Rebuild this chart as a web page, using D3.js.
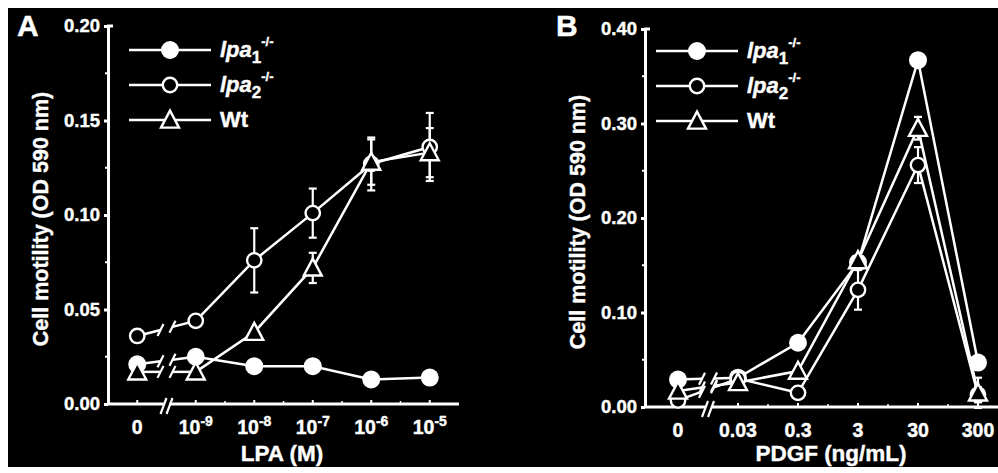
<!DOCTYPE html>
<html>
<head>
<meta charset="utf-8">
<script src="https://cdn.jsdelivr.net/npm/d3@7"></script>
<style>
  html, body { margin: 0; padding: 0; background: #fff; }
  svg { display: block; }
  text { font-family: 'Liberation Sans', Arial, sans-serif; font-weight: bold; fill: #fff; stroke: #fff; stroke-width: 0.4px; }
</style>
</head>
<body>
<div id="chart"></div>
<script>
// Panel A: LPA dose response
var lpaCats = ['0', '-9', '-8', '-7', '-6', '-5'];
var lpa1A = [0.021, 0.025, 0.020, 0.020, 0.013, 0.014];
var lpa2A = [0.036, 0.044, 0.076, 0.101, 0.127, 0.136];
var wtA   = [0.017, 0.017, 0.038, 0.072, 0.128, 0.133];
var lpa2AErr = [0, 0, 0.017, 0.013, 0.014, 0.018];
var wtAErr   = [0, 0, 0, 0.008, 0.012, 0.013];
var yTicksA = [0, 0.05, 0.10, 0.15, 0.20];

// Panel B: PDGF dose response
var pdgfCats = ['0', '0.03', '0.3', '3', '30', '300'];
var lpa1B = [0.029, 0.031, 0.068, 0.153, 0.367, 0.047];
var lpa2B = [0.007, 0.030, 0.015, 0.124, 0.256, 0.013];
var wtB   = [0.017, 0.026, 0.038, 0.155, 0.295, 0.015];
var lpa2BErr = [0, 0, 0, 0.021, 0.019, 0.008];
var wtBErr   = [0, 0, 0, 0, 0.012, 0.016];
var yTicksB = [0, 0.10, 0.20, 0.30, 0.40];

var W = 998, H = 473;
var svg = d3.select('#chart').append('svg').attr('width', W).attr('height', H);
svg.append('rect').attr('x', 8).attr('y', 8).attr('width', W - 8).attr('height', 459).attr('fill', '#000');

var defs = svg.append('defs');
defs.append('clipPath').attr('id', 'clipAll')
    .append('rect').attr('x', 8).attr('y', 8).attr('width', W - 8).attr('height', 459);
var root = svg.append('g').attr('clip-path', 'url(#clipAll)');

var LW = 2.5;

function drawMarker(g, type, cx, cy) {
    if (type === 'filled') {
        g.append('circle').attr('cx', cx).attr('cy', cy).attr('r', 9).attr('fill', '#fff');
    } else if (type === 'open') {
        g.append('circle').attr('cx', cx).attr('cy', cy).attr('r', 7.2)
            .attr('fill', '#000').attr('stroke', '#fff').attr('stroke-width', 2.4);
    } else {
        var s = 9, h = 17;
        g.append('path')
            .attr('d', 'M' + cx + ',' + (cy - h * 0.55) + 'L' + (cx + s) + ',' + (cy + h * 0.45) + 'L' + (cx - s) + ',' + (cy + h * 0.45) + 'Z')
            .attr('fill', '#000').attr('stroke', '#fff').attr('stroke-width', 2.4).attr('stroke-linejoin', 'miter');
    }
}

function slash(g, x, y, h) {
    g.append('line').attr('x1', x - 3).attr('y1', y + h).attr('x2', x + 3).attr('y2', y - h)
        .attr('stroke', '#fff').attr('stroke-width', 2.2);
}

function panel(o) {
    var g = root.append('g');
    var x = d3.scalePoint().domain(o.cats).range(o.xRange).padding(o.pad);
    var y = d3.scaleLinear().domain(o.yDomain).range(o.yRange);
    var y0 = y(0);
    var brk = (x(o.cats[0]) + x(o.cats[1])) / 2;

    // x axis line and ticks
    g.append('line').attr('x1', o.xRange[0]).attr('x2', o.xEnd).attr('y1', y0).attr('y2', y0)
        .attr('stroke', '#fff').attr('stroke-width', 3);
    g.append('g').selectAll('line').data(o.cats).join('line')
        .attr('x1', function (d) { return x(d); }).attr('x2', function (d) { return x(d); })
        .attr('y1', y0 - 4).attr('y2', y0).attr('stroke', '#fff').attr('stroke-width', 2);
    g.append('g').selectAll('line').data(o.cats.slice(1, -1)).join('line')
        .attr('x1', function (d) { return x(d) + x.step() / 2; }).attr('x2', function (d) { return x(d) + x.step() / 2; })
        .attr('y1', y0 - 3).attr('y2', y0).attr('stroke', '#fff').attr('stroke-width', 1.5);

    // y axis
    var yAxis = d3.axisLeft(y).tickValues(o.yTicks).tickSize(4).tickSizeOuter(0).tickFormat(d3.format('.2f'));
    var yg = g.append('g').attr('transform', 'translate(' + o.xRange[0] + ',0)').call(yAxis);
    yg.selectAll('path,line').attr('stroke', '#fff').attr('stroke-width', 3);
    yg.selectAll('text').attr('font-size', 18.5).attr('font-family', "'Liberation Sans', Arial, sans-serif")
        .attr('font-weight', 'bold').attr('fill', '#fff').attr('dx', -1);
    var minor = [];
    for (var i = 0; i < o.yTicks.length - 1; i++) minor.push((o.yTicks[i] + o.yTicks[i + 1]) / 2);
    g.append('g').selectAll('line').data(minor).join('line')
        .attr('x1', o.xRange[0]).attr('x2', o.xRange[0] - 3)
        .attr('y1', function (d) { return y(d); }).attr('y2', function (d) { return y(d); })
        .attr('stroke', '#fff').attr('stroke-width', 2);
    var top = y(o.yDomain[1]);
    g.append('line').attr('x1', o.xRange[0] - 1).attr('x2', o.xRange[0] + 5).attr('y1', top).attr('y2', top)
        .attr('stroke', '#fff').attr('stroke-width', 3);

    // axis break
    g.append('rect').attr('x', brk - 3).attr('y', y0 - 3).attr('width', 6).attr('height', 6).attr('fill', '#000');
    slash(g, brk - 3, y0 + 2, 8);
    slash(g, brk + 3, y0 + 2, 8);

    // x tick labels
    var lab = g.append('g').selectAll('text').data(o.cats).join('text')
        .attr('x', function (d) { return x(d); }).attr('y', y0 + 30)
        .attr('text-anchor', 'middle').attr('font-size', 19.5);
    if (o.expo) {
        lab.each(function (d) {
            var t = d3.select(this);
            if (d === '0') { t.text('0'); return; }
            t.append('tspan').text('10');
            t.append('tspan').attr('font-size', 14).attr('dy', -8).text(d);
        });
    } else {
        lab.text(function (d) { return d; });
    }

    // series
    var series = o.series;
    var lineG = g.append('g'), errG = g.append('g'), markG = g.append('g');
    series.forEach(function (s) {
        var pts = s.values.map(function (v, i) { return [x(o.cats[i]), y(v)]; });
        var p0 = pts[0], p1 = pts[1];
        var gap = 6;
        var yAt = function (xx) { return p0[1] + (p1[1] - p0[1]) * (xx - p0[0]) / (p1[0] - p0[0]); };
        lineG.append('line').attr('x1', p0[0]).attr('y1', p0[1]).attr('x2', brk - gap).attr('y2', yAt(brk - gap))
            .attr('stroke', '#fff').attr('stroke-width', LW);
        lineG.append('line').attr('x1', brk + gap).attr('y1', yAt(brk + gap)).attr('x2', p1[0]).attr('y2', p1[1])
            .attr('stroke', '#fff').attr('stroke-width', LW);
        slash(lineG, brk - gap, yAt(brk - gap), 6);
        slash(lineG, brk + gap, yAt(brk + gap), 6);
        lineG.append('path').datum(pts.slice(1))
            .attr('d', d3.line())
            .attr('fill', 'none').attr('stroke', '#fff').attr('stroke-width', LW);
        if (s.err) {
            s.err.forEach(function (e, i) {
                if (!e) return;
                var cx = x(o.cats[i]);
                var a = y(s.values[i] + e), b = y(s.values[i] - e);
                errG.append('line').attr('x1', cx).attr('x2', cx).attr('y1', a).attr('y2', b)
                    .attr('stroke', '#fff').attr('stroke-width', 2.2);
                [a, b].forEach(function (yy) {
                    errG.append('line').attr('x1', cx - 4).attr('x2', cx + 4).attr('y1', yy).attr('y2', yy)
                        .attr('stroke', '#fff').attr('stroke-width', 2.2);
                });
            });
        }
    });
    series.forEach(function (s) {
        s.values.forEach(function (v, i) { drawMarker(markG, s.type, x(o.cats[i]), y(v)); });
    });

    // legend
    var lg = g.append('g');
    series.forEach(function (s, i) {
        var ly = o.legY + i * 35;
        lg.append('line').attr('x1', o.legX).attr('x2', o.legX + 82).attr('y1', ly).attr('y2', ly)
            .attr('stroke', '#fff').attr('stroke-width', LW);
        drawMarker(lg, s.type, o.legX + 41, ly);
        var t = lg.append('text').attr('x', o.legX + 91).attr('y', ly + 7).attr('font-size', 22);
        if (s.sub) {
            t.append('tspan').attr('font-style', 'italic').text('lpa');
            t.append('tspan').attr('font-size', 17).attr('dy', 6).text(s.sub);
            t.append('tspan').attr('font-size', 13).attr('dy', -17).text('-/-');
        } else {
            t.text(s.name);
        }
    });

    // titles
    g.append('text').attr('x', o.letterX).attr('y', 36).attr('font-size', 30).text(o.letter);
    g.append('text').attr('transform', 'translate(' + o.yTitleX + ',' + ((y0 + top) / 2 + 4) + ') rotate(-90)')
        .attr('text-anchor', 'middle').attr('font-size', 21.5).text('Cell motility (OD 590 nm)');
    g.append('text').attr('x', o.xTitleX).attr('y', 461).attr('text-anchor', 'middle')
        .attr('font-size', 22.5).text(o.xTitle);
}

panel({
    cats: lpaCats, xRange: [108, 459], xEnd: 459, pad: 0.5, expo: true,
    yDomain: [0, 0.2], yRange: [404, 26], yTicks: yTicksA,
    series: [
        { type: 'filled', values: lpa1A, sub: '1' },
        { type: 'open', values: lpa2A, err: lpa2AErr, sub: '2' },
        { type: 'tri', values: wtA, err: wtAErr, name: 'Wt' }
    ],
    legX: 129, legY: 50, letter: 'A', letterX: 17, yTitleX: 48,
    xTitle: 'LPA (M)', xTitleX: 282
});

panel({
    cats: pdgfCats, xRange: [645, 1011], xEnd: 1011, pad: 0.55, expo: false,
    yDomain: [0, 0.4], yRange: [407, 29], yTicks: yTicksB,
    series: [
        { type: 'filled', values: lpa1B, sub: '1' },
        { type: 'open', values: lpa2B, err: lpa2BErr, sub: '2' },
        { type: 'tri', values: wtB, err: wtBErr, name: 'Wt' }
    ],
    legX: 656, legY: 51, letter: 'B', letterX: 556, yTitleX: 585,
    xTitle: 'PDGF (ng/mL)', xTitleX: 831
});
</script>
</body>
</html>
